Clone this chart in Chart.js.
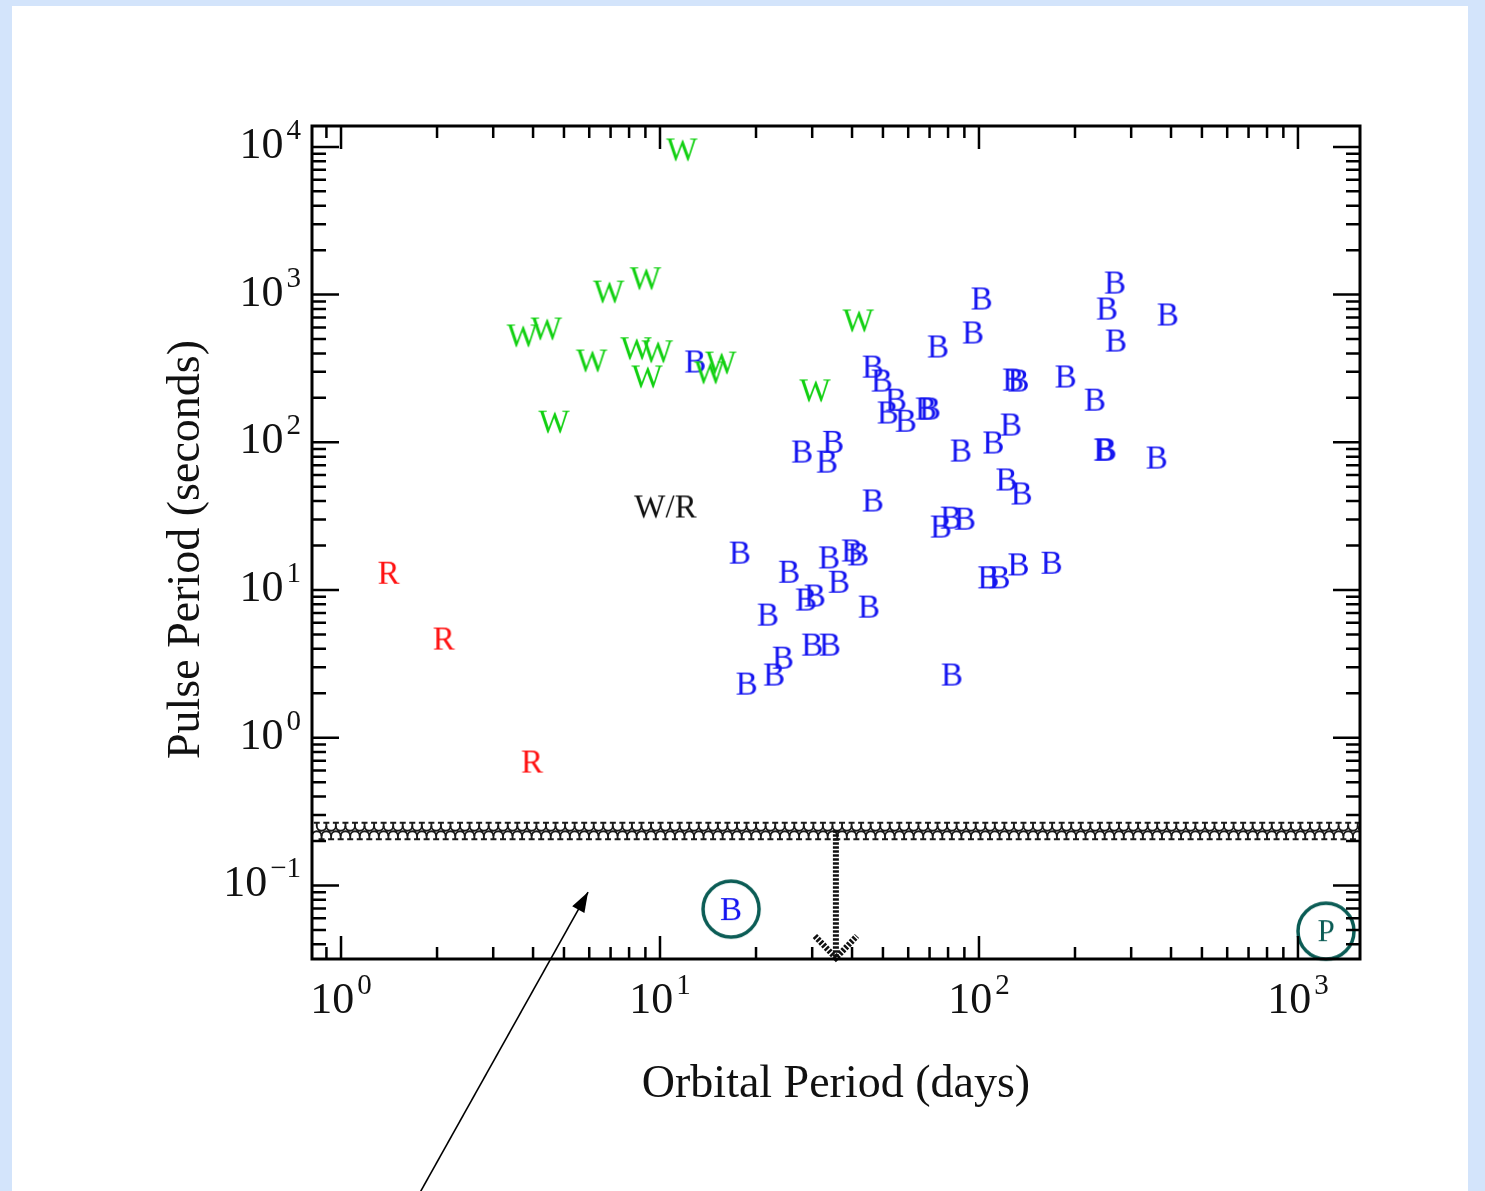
<!DOCTYPE html>
<html>
<head>
<meta charset="utf-8">
<script src="https://cdn.jsdelivr.net/npm/chart.js@4/dist/chart.umd.min.js"></script>
<style>
  html, body { margin: 0; padding: 0; background: #d3e4fb; }
  #c { display: block; }
</style>
</head>
<body>
<canvas id="c" width="1485" height="1191"></canvas>
<script>
const SERIF = '"Liberation Serif", "DejaVu Serif", serif';

// Orbital period (days) vs pulse period (s)
const windX = [11.7, 6.9, 9.0, 3.7, 4.4, 6.1, 8.4, 9.8, 9.1, 15.5, 14.3, 41.8, 30.6, 4.65];
const windY = [9530, 1040, 1280, 525, 585, 355, 430, 410, 277, 344, 295, 663, 223, 137];

const rocheX = [1.41, 2.1, 3.97];
const rocheY = [13.0, 4.66, 0.685];

const mixedX = [10.4];
const mixedY = [36.5];

const beX = [12.9, 102, 95.8, 74.4, 46.5, 49.6, 54.9, 51.8, 59.0, 68.2, 70.2, 128, 133, 187, 231,
  267, 252, 391, 269, 27.9, 34.9, 33.4, 87.8, 111, 126, 247, 250, 361, 122, 136, 46.5, 76.0, 81.7,
  90.4, 17.8, 25.4, 33.9, 40.0, 41.8, 36.4, 28.7, 30.6, 21.8, 45.2, 30.0, 34.1, 24.3, 22.8, 18.7,
  82.3, 107, 116, 133, 169];
const beY = [350, 934, 550, 442, 323, 260, 193, 158, 139, 168, 168, 264, 260, 277, 193,
  1198, 799, 728, 485, 86, 100, 73.5, 87.3, 99, 131, 88.7, 88.7, 78.3, 55.6, 44.7, 40.1, 26.7, 30.7,
  30.2, 17.8, 13.2, 16.5, 18.4, 17.3, 11.3, 8.56, 9.11, 6.77, 7.67, 4.24, 4.24, 3.46, 2.66, 2.31,
  2.66, 12.1, 12.1, 14.8, 15.2];

// circled systems below the band
const circX = [16.7, 1224];
const circY = [0.0692, 0.0491];
const circText = ['B', 'P'];
const circTextColor = ['#1414f0', '#0b5c55'];

// axes
const xRange = [0.811, 1565];
const yRange = [0.0318, 13850];
const xDecades = [0, 1, 2, 3];
const yDecades = [-1, 0, 1, 2, 3, 4];

// hatched band + upper limit arrow + pointer
const bandRange = [0.203, 0.269];
const limitX = 35.6;
const limitTop = 0.237;
const pointerX = [1.72, 5.95];
const pointerY = [0.00075, 0.0902];

const pts = (xs, ys) => xs.map((x, i) => ({ x, y: ys[i] }));

function letterImg(text, color, size = 33) {
  const cv = document.createElement('canvas');
  let ctx = cv.getContext('2d');
  ctx.font = `${size}px ${SERIF}`;
  const w = Math.ceil(ctx.measureText(text).width) + 4;
  cv.width = w;
  cv.height = size + 6;
  ctx = cv.getContext('2d');
  ctx.font = `${size}px ${SERIF}`;
  ctx.fillStyle = color;
  ctx.textAlign = 'center';
  ctx.fillText(text, w / 2, cv.height / 2 + size * 0.33);
  return cv;
}

function circleImg(text, color) {
  const cv = document.createElement('canvas');
  cv.width = cv.height = 66;
  const ctx = cv.getContext('2d');
  ctx.strokeStyle = '#0b5c55';
  ctx.lineWidth = 3.5;
  ctx.beginPath();
  ctx.arc(33, 33, 28, 0, Math.PI * 2);
  ctx.stroke();
  const size = text === 'P' ? 31 : 33;
  ctx.font = `${size}px ${SERIF}`;
  ctx.fillStyle = color;
  ctx.textAlign = 'center';
  ctx.fillText(text, 33, 33 + size * 0.33);
  return cv;
}

function drawPow(ctx, exp, xPos, yBase, align) {
  const sup = exp < 0 ? '\u2212' + (-exp) : String(exp);
  ctx.font = `44px ${SERIF}`;
  const wb = ctx.measureText('10').width;
  ctx.font = `29px ${SERIF}`;
  const ws = ctx.measureText(sup).width;
  const gap = 3;
  const x0 = align === 'center' ? xPos - (wb + gap + ws) / 2 : xPos - (wb + gap + ws);
  ctx.textAlign = 'left';
  ctx.textBaseline = 'alphabetic';
  ctx.font = `44px ${SERIF}`;
  ctx.fillText('10', x0, yBase);
  ctx.font = `29px ${SERIF}`;
  ctx.fillText(sup, x0 + wb + gap, yBase - 19);
}

const decor = {
  id: 'decor',
  beforeDraw(chart) {
    const { ctx, width, height } = chart;
    ctx.save();
    ctx.fillStyle = '#d3e4fb';
    ctx.fillRect(0, 0, width, height);
    ctx.fillStyle = '#ffffff';
    ctx.fillRect(12, 6, 1456, height);
    ctx.restore();
  },
  beforeDatasetsDraw(chart) {
    // scalloped band
    const { ctx, chartArea: a, scales: { y } } = chart;
    const y1 = y.getPixelForValue(bandRange[1]);
    const y2 = y.getPixelForValue(bandRange[0]);
    const s = 9.55;
    ctx.save();
    ctx.beginPath();
    ctx.rect(a.left, y1 - 2, a.right - a.left, y2 - y1 + 4);
    ctx.clip();
    ctx.strokeStyle = '#1a1a1a';
    ctx.lineWidth = 1.9;
    for (let xc = a.left + s / 2; xc < a.right + s; xc += s) {
      ctx.beginPath();
      ctx.moveTo(xc - 3, y1 + 0.8); ctx.lineTo(xc + 3, y1 + 0.8);
      ctx.moveTo(xc, y1); ctx.lineTo(xc, y1 + 4);
      ctx.moveTo(xc, y1 + 4);
      ctx.arc(xc + s / 2, y1 + 4, s / 2, Math.PI, 0, true);
      ctx.moveTo(xc - s / 2, y2 - 4);
      ctx.arc(xc, y2 - 4, s / 2, Math.PI, 2 * Math.PI, false);
      ctx.moveTo(xc + s / 2, y2 - 4); ctx.lineTo(xc + s / 2, y2);
      ctx.moveTo(xc + s / 2 - 3, y2 - 0.8); ctx.lineTo(xc + s / 2 + 3, y2 - 0.8);
      ctx.stroke();
    }
    ctx.restore();
  },
  afterDatasetsDraw(chart) {
    const { ctx, chartArea: a, scales: { x, y } } = chart;
    ctx.save();

    // arrowhead of the upper limit
    const tx = x.getPixelForValue(limitX);
    ctx.strokeStyle = '#111';
    ctx.lineWidth = 6;
    ctx.setLineDash([2.5, 1.5]);
    ctx.beginPath();
    ctx.moveTo(tx - 21, a.bottom - 23); ctx.lineTo(tx, a.bottom - 1); ctx.lineTo(tx + 21, a.bottom - 23);
    ctx.stroke();
    ctx.setLineDash([]);

    // pointer arrowhead
    const p1 = { x: x.getPixelForValue(pointerX[0]), y: y.getPixelForValue(pointerY[0]) };
    const p2 = { x: x.getPixelForValue(pointerX[1]), y: y.getPixelForValue(pointerY[1]) };
    const ang = Math.atan2(p2.y - p1.y, p2.x - p1.x);
    ctx.fillStyle = '#000';
    ctx.beginPath();
    ctx.moveTo(p2.x, p2.y);
    ctx.lineTo(p2.x - 20 * Math.cos(ang) + 7 * Math.sin(ang), p2.y - 20 * Math.sin(ang) - 7 * Math.cos(ang));
    ctx.lineTo(p2.x - 20 * Math.cos(ang) - 7 * Math.sin(ang), p2.y - 20 * Math.sin(ang) + 7 * Math.cos(ang));
    ctx.closePath();
    ctx.fill();

    // frame
    ctx.strokeStyle = '#000';
    ctx.lineWidth = 3;
    ctx.strokeRect(a.left, a.top, a.right - a.left, a.bottom - a.top);

    // inward ticks on all four sides
    ctx.lineWidth = 2.5;
    ctx.beginPath();
    for (let k = -1; k <= 3; k++) {
      for (let m = 1; m <= 9; m++) {
        const v = m * Math.pow(10, k);
        if (v < xRange[0] || v > xRange[1]) continue;
        const px = x.getPixelForValue(v);
        const len = m === 1 ? 23 : 12;
        ctx.moveTo(px, a.bottom); ctx.lineTo(px, a.bottom - len);
        ctx.moveTo(px, a.top); ctx.lineTo(px, a.top + len);
      }
    }
    for (let k = -2; k <= 4; k++) {
      for (let m = 1; m <= 9; m++) {
        const v = m * Math.pow(10, k);
        if (v < yRange[0] || v > yRange[1]) continue;
        const py = y.getPixelForValue(v);
        const len = m === 1 ? 27 : 14;
        ctx.moveTo(a.left, py); ctx.lineTo(a.left + len, py);
        ctx.moveTo(a.right, py); ctx.lineTo(a.right - len, py);
      }
    }
    ctx.stroke();

    // tick labels
    ctx.fillStyle = '#111';
    xDecades.forEach((e) => drawPow(ctx, e, x.getPixelForValue(Math.pow(10, e)), a.bottom + 54, 'center'));
    yDecades.forEach((e) => drawPow(ctx, e, a.left - 11, y.getPixelForValue(Math.pow(10, e)) + 11, 'right'));

    // axis titles
    ctx.font = `46px ${SERIF}`;
    ctx.textAlign = 'center';
    ctx.textBaseline = 'alphabetic';
    ctx.fillText('Orbital Period (days)', (a.left + a.right) / 2, a.bottom + 138);
    ctx.translate(199, (a.top + a.bottom) / 2 + 7);
    ctx.rotate(-Math.PI / 2);
    ctx.fillText('Pulse Period (seconds)', 0, 0);
    ctx.restore();
  },
};

new Chart(document.getElementById('c'), {
  type: 'scatter',
  data: {
    datasets: [
      { data: pts(pointerX, pointerY), showLine: true, borderColor: '#000', borderWidth: 1.6, pointRadius: 0, clip: false },
      { data: [{ x: limitX, y: limitTop }, { x: limitX, y: yRange[0] }], showLine: true, borderColor: '#111',
        borderWidth: 6, borderDash: [2.5, 1.5], pointRadius: 0 },
      { data: pts(windX, windY), pointStyle: letterImg('W', '#10d010'), pointRadius: 10 },
      { data: pts(rocheX, rocheY), pointStyle: letterImg('R', '#ff1010'), pointRadius: 10 },
      { data: pts(mixedX, mixedY), pointStyle: letterImg('W/R', '#111'), pointRadius: 10 },
      { data: pts(beX, beY), pointStyle: letterImg('B', '#1414f0'), pointRadius: 10 },
      { data: pts(circX, circY), pointStyle: circText.map((t, i) => circleImg(t, circTextColor[i])), pointRadius: 28, clip: false },
    ],
  },
  options: {
    responsive: false,
    animation: false,
    devicePixelRatio: 1,
    layout: { padding: { left: 312, top: 126, right: 125, bottom: 232 } },
    scales: {
      x: { type: 'logarithmic', min: xRange[0], max: xRange[1], display: false },
      y: { type: 'logarithmic', min: yRange[0], max: yRange[1], display: false },
    },
    plugins: { legend: { display: false }, tooltip: { enabled: false } },
  },
  plugins: [decor],
});
</script>
</body>
</html>
